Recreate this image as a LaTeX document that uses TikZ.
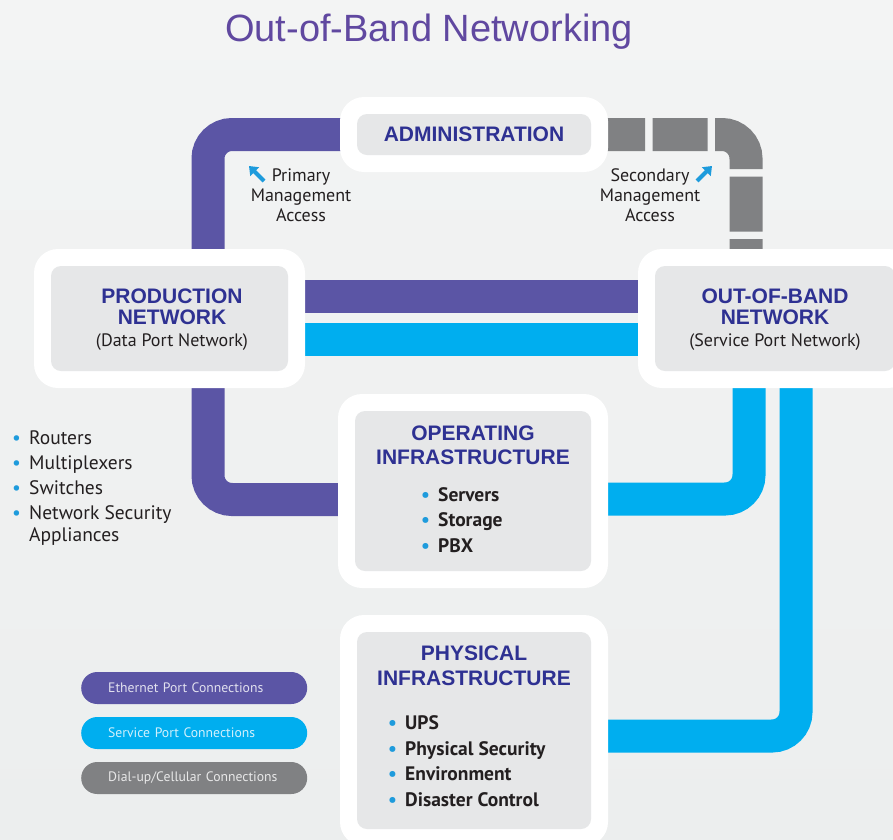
\documentclass[tikz,border=0pt]{standalone}
\usepackage{fontspec}
\setmainfont{PT Sans}
\newfontfamily\arialsans{Liberation Sans}
\usetikzlibrary{
    arrows.meta,
    backgrounds
}
\definecolor{ethpurple}{RGB}{91,85,165}
\definecolor{titlepurple}{RGB}{96,72,160}
\definecolor{svccyan}{RGB}{0,174,239}
\definecolor{dialgray}{RGB}{128,129,131}
\definecolor{headblue}{RGB}{46,49,146}
\definecolor{panelgray}{RGB}{230,231,232}
\definecolor{dotblue}{RGB}{30,155,220}
\definecolor{bgtop}{RGB}{243,244,244}
\definecolor{bgbot}{RGB}{236,238,238}
\definecolor{bodyink}{RGB}{35,31,32}
\newcommand{\blt}{\makebox[17pt][l]{\textcolor{dotblue}{\textbullet}}}
\tikzset{
    frame/.style={
        rectangle,
        fill=white,
        rounded corners=24pt,
        inner sep=0pt,
        path picture={
            \fill[panelgray, rounded corners=10pt]
                ([xshift=17pt,yshift=-17pt]path picture bounding box.north west)
                rectangle
                ([xshift=-17pt,yshift=17pt]path picture bounding box.south east);
        }
    },
    pipe/.style={
        line width=33pt,
        rounded corners=24pt
    },
    ethernet/.style={pipe, draw=ethpurple},
    service/.style={pipe, draw=svccyan},
    dialup/.style={pipe, draw=dialgray, dash pattern=on 55pt off 7.5pt},
    title/.style={
        font=\arialsans\fontsize{38}{44}\selectfont,
        text=titlepurple
    },
    heading/.style={
        font=\arialsans\bfseries\fontsize{21}{20.5}\selectfont,
        text=headblue,
        align=center,
        inner sep=0pt
    },
    subtitle/.style={
        font=\fontsize{18}{20}\selectfont,
        text=bodyink,
        inner sep=0pt
    },
    itemlist/.style={
        font=\bfseries\fontsize{19.5}{25.5}\selectfont,
        text=bodyink,
        align=left,
        inner sep=0pt
    },
    devicelist/.style={
        itemlist,
        font=\fontsize{19.5}{25}\selectfont
    },
    mgmt/.style={
        font=\fontsize{18}{20}\selectfont,
        text=bodyink,
        align=center,
        inner sep=0pt
    },
    mgmtarrow/.style={
        -{Triangle[length=8pt,width=12pt]},
        draw=dotblue,
        line width=4pt
    },
    legend/.style={
        rectangle,
        rounded corners=16pt,
        minimum height=32pt,
        text width=172pt,
        inner xsep=27pt,
        inner ysep=0pt,
        align=left,
        font=\fontsize{13.7}{15}\selectfont,
        text=white,
        text opacity=0.82
    }
}

\begin{document}
\begin{tikzpicture}[x=1pt, y=-1pt]

\useasboundingbox (0,0) rectangle (893,839);

% Boxes
\node[frame, minimum width=268pt, minimum height=75pt] (admin) at (474,134.5) {};
\node[frame, minimum width=271pt, minimum height=139pt] (prod) at (169.5,318.5) {};
\node[frame, minimum width=274pt, minimum height=139pt] (oob) at (775,318.5) {};
\node[frame, minimum width=270pt, minimum height=194pt] (oper) at (473,491) {};
\node[frame, minimum width=268pt, minimum height=231pt] (phys) at (474,730.5) {};

% Box texts
\node[heading] (admintitle) at (474,134) {ADMINISTRATION};
\node[heading] (prodtitle) at (172,307) {PRODUCTION\\NETWORK};
\node[subtitle] (prodsub) at (172,342) {(Data Port Network)};
\node[heading] (oobtitle) at (775,307) {OUT-OF-BAND\\NETWORK};
\node[subtitle] (oobsub) at (775,342) {(Service Port Network)};
\node[heading] (opertitle) at (473,445) {OPERATING\\[3.5pt]INFRASTRUCTURE};
\node[itemlist, anchor=west] (operitems) at (421,520)
    {\blt Servers\\\blt Storage\\\blt PBX};
\node[heading] (phystitle) at (474,665.5) {PHYSICAL\\[4.5pt]INFRASTRUCTURE};
\node[itemlist, anchor=west] (physitems) at (388,761)
    {\blt UPS\\\blt Physical Security\\\blt Environment\\\blt Disaster Control};

% Title and side notes
\node[title] (heading) at (429,32) {Out-of-Band Networking};
\node[devicelist, anchor=west] (devices) at (12,488.5)
    {\blt Routers\\\blt Multiplexers\\\blt Switches\\\blt Network Security\\[-3pt]\hphantom{\blt}Appliances};
\node[mgmt] (primary) at (301,195) {Primary\\Management\\Access};
\node[mgmt] (secondary) at (650,195) {Secondary\\Management\\Access};
\draw[mgmtarrow] (264,181) -- (249,166);
\draw[mgmtarrow] (697,181) -- (712,166);

% Legend
\node[legend, fill=ethpurple, anchor=west] (ethkey) at (81,688) {Ethernet Port Connections};
\node[legend, fill=svccyan, anchor=west] (svckey) at (81,733) {Service Port Connections};
\node[legend, fill=dialgray, anchor=west] (dialkey) at (81,778) {Dial-up/Cellular Connections};

% Pipes, under the boxes
\begin{scope}[on background layer]
    \shade[top color=bgtop, bottom color=bgbot] (0,0) rectangle (893,839);

    % ethernet
    \draw[ethernet] ([xshift=38.5pt]prod.center) |- (admin.center);
    \draw[ethernet] ([yshift=22.5pt]prod.center) -- ([yshift=22.5pt]oob.center);
    \draw[ethernet] ([xshift=38.5pt]prod.center) |- ([yshift=-8.5pt]oper.center);

    % service ports
    \draw[service] ([yshift=-20.5pt]prod.center) -- ([yshift=-20.5pt]oob.center);
    \draw[service] ([xshift=-26pt]oob.center) |- ([yshift=-8pt]oper.center);
    \draw[service] ([xshift=21pt]oob.center) |- ([yshift=-5.5pt]phys.center);

    % dial-up
    \draw[dialup] ([xshift=-18pt]admin.east) -| ([xshift=-29pt]oob.center);
\end{scope}

\end{tikzpicture}
\end{document}
